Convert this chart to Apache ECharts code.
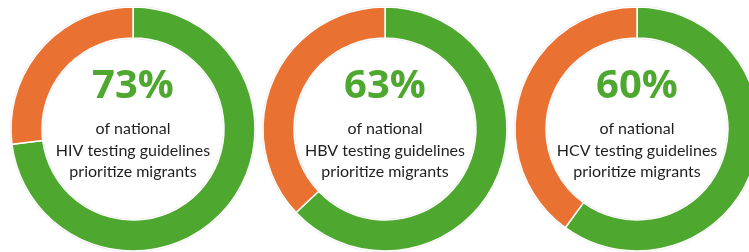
<!DOCTYPE html>
<html>
<head>
<meta charset="utf-8">
<script src="https://cdn.jsdelivr.net/npm/echarts@6/dist/echarts.min.js"></script>
<style>
  html, body { margin: 0; padding: 0; background: #fff; }
  #chart { width: 749px; height: 252px; }
</style>
</head>
<body>
<div id="chart"></div>
<script>
const viruses = ['HIV', 'HBV', 'HCV'];
const prioritize = [73, 63, 60];
const notPrioritize = [27, 37, 40];

const GREEN = '#4ea72e';
const ORANGE = '#e97132';
const centers = [[133, 129], [385, 129], [637, 129]];

const chart = echarts.init(document.getElementById('chart'));

const series = [];
const graphic = [];
viruses.forEach((v, i) => {
  const [cx, cy] = centers[i];
  // faint outline ring under each donut
  series.push({
    type: 'pie',
    silent: true,
    center: centers[i],
    radius: [90, 123],
    label: { show: false },
    itemStyle: { color: '#dcdcdc' },
    data: [1],
    z: 1
  });
  series.push({
    type: 'pie',
    silent: true,
    center: centers[i],
    radius: [91, 122],
    startAngle: 90,
    clockwise: true,
    itemStyle: { borderColor: '#fff', borderWidth: 1.5 },
    label: { show: false },
    labelLine: { show: false },
    data: [
      { value: prioritize[i], name: v, itemStyle: { color: GREEN } },
      { value: notPrioritize[i], name: 'Other', itemStyle: { color: ORANGE } }
    ],
    z: 2
  });

  // centre text
  graphic.push({
    type: 'text',
    x: cx,
    y: cy - 42.5,
    style: {
      text: prioritize[i] + '%',
      font: 'bold 40px "Open Sans"',
      fill: GREEN,
      align: 'center',
      verticalAlign: 'middle'
    },
    z: 10
  });
  const lines = ['of national', v + ' testing guidelines', 'prioritize migrants'];
  lines.forEach((t, k) => {
    graphic.push({
      type: 'text',
      x: cx,
      y: cy + k * 21.5,
      style: {
        text: t,
        font: '16px Lato',
        fill: '#1f1f1f',
        align: 'center',
        verticalAlign: 'middle'
      },
      z: 10
    });
  });
});

chart.setOption({
  animation: false,
  series: series,
  graphic: graphic
});
</script>
</body>
</html>
